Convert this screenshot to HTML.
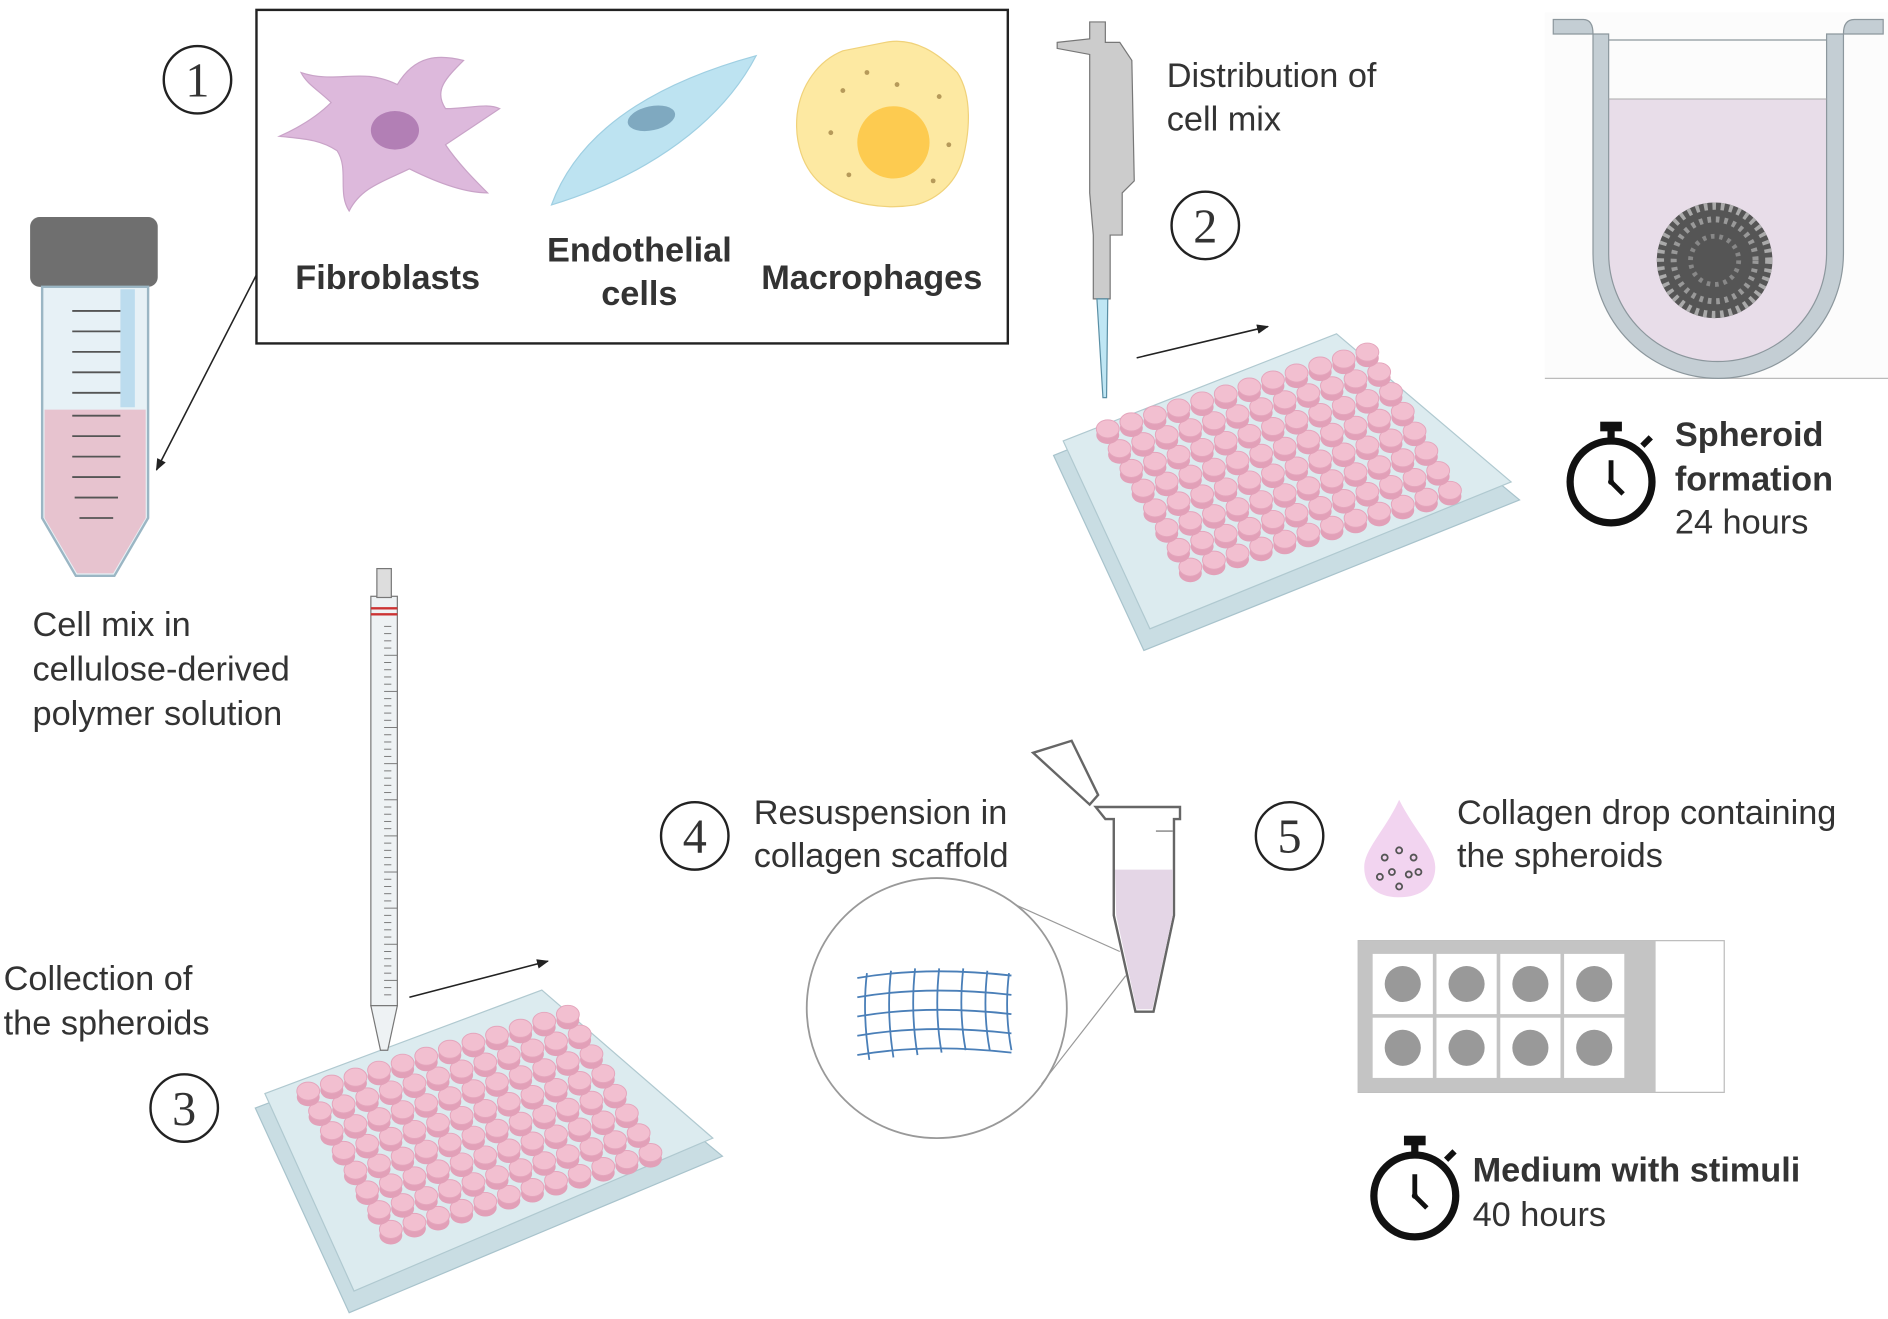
<!DOCTYPE html>
<html><head><meta charset="utf-8"><style>
html,body{margin:0;padding:0;background:#fff;}
svg{display:block;}
text{font-family:"Liberation Sans",sans-serif;fill:#333;font-size:28.5px;}
.b{font-weight:bold;}
</style></head><body>
<svg id="s" width="1888" height="1319" viewBox="0 0 1568 1095" xmlns="http://www.w3.org/2000/svg">
<defs>
<marker id="ah" markerWidth="10" markerHeight="8" refX="9" refY="4" orient="auto" markerUnits="userSpaceOnUse"><path d="M0,0 L10,4 L0,8z" fill="#222"/></marker>
</defs>
<rect width="1568" height="1095" fill="#fff"/>
<!-- box 1 -->
<rect x="213" y="8" width="624" height="277" fill="#fff" stroke="#222" stroke-width="2"/>
<circle cx="164" cy="66" r="28" fill="none" stroke="#222" stroke-width="2"/><text x="164" y="80" font-size="40" text-anchor="middle" style="font-family:'Liberation Serif',serif;font-size:40px" fill="#222">1</text>
<path d="M250,60 C280,70 300,55 330,70 C345,45 365,45 385,50 C370,65 360,75 370,90 C390,90 405,85 415,90 C400,100 385,110 370,120 C380,135 395,150 405,160 C385,160 360,150 340,140 C320,150 300,155 290,175 C280,160 290,140 280,125 C265,115 250,115 232,113 C250,105 265,95 275,85 C265,75 255,70 250,60Z" fill="#ddb9dc" stroke="#c9a3c8"/>
<ellipse cx="328" cy="108" rx="20" ry="16" fill="#b27fb5"/>
<path d="M458,170 C480,110 540,70 628,46 C600,100 540,145 458,170Z" fill="#bde3f1" stroke="#9fcfe2"/>
<ellipse cx="541" cy="98" rx="20" ry="10" fill="#7fa9c0" transform="rotate(-12 541 98)"/>
<path d="M735,35 C760,30 780,45 795,60 C808,80 805,110 800,130 C795,150 780,165 760,170 C735,174 705,170 685,155 C665,140 660,115 662,95 C665,70 680,50 700,42Z" fill="#fde9a2" stroke="#f0d27a"/>
<circle cx="742" cy="118" r="30" fill="#fdcb50"/>
<g fill="#b69a5a"><circle cx="700" cy="75" r="2"/><circle cx="720" cy="60" r="2"/><circle cx="780" cy="80" r="2"/><circle cx="690" cy="110" r="2"/><circle cx="705" cy="145" r="2"/><circle cx="775" cy="150" r="2"/><circle cx="745" cy="70" r="2"/><circle cx="788" cy="120" r="2"/></g>
<text class="b" x="322" y="240" text-anchor="middle">Fibroblasts</text>
<text class="b" x="531" y="217" text-anchor="middle">Endothelial</text>
<text class="b" x="531" y="253" text-anchor="middle">cells</text>
<text class="b" x="724" y="240" text-anchor="middle">Macrophages</text>
<line x1="213" y1="228" x2="130" y2="390" stroke="#222" stroke-width="1.3" marker-end="url(#ah)"/>
<!-- falcon tube -->
<rect x="25" y="180" width="106" height="58" rx="8" fill="#6f6f6f"/>
<path d="M35,238 L123,238 L123,430 L95,478 L63,478 L35,430Z" fill="#e7f1f6" stroke="#9bb6c4" stroke-width="2"/>
<path d="M37,340 L121,340 L121,430 L94,476 L64,476 L37,430Z" fill="#e7c3cf"/>
<rect x="100" y="240" width="12" height="98" fill="#bcdcee"/>
<g stroke="#555" stroke-width="1.5"><line x1="60" y1="258" x2="100" y2="258"/><line x1="60" y1="275" x2="100" y2="275"/><line x1="60" y1="292" x2="100" y2="292"/><line x1="60" y1="309" x2="100" y2="309"/><line x1="60" y1="326" x2="100" y2="326"/><line x1="60" y1="345" x2="100" y2="345"/><line x1="60" y1="362" x2="100" y2="362"/><line x1="60" y1="379" x2="100" y2="379"/><line x1="60" y1="396" x2="100" y2="396"/><line x1="62" y1="413" x2="98" y2="413"/><line x1="66" y1="430" x2="94" y2="430"/></g>
<text x="27" y="528">Cell mix in</text>
<text x="27" y="565">cellulose-derived</text>
<text x="27" y="602">polymer solution</text>
<!-- pipette 2 -->
<path d="M878,35 L905,32 L905,18 L918,18 L918,35 L930,35 L940,50 L942,150 L932,160 L932,195 L922,195 L922,248 L908,248 L908,195 L905,160 L905,45 L878,40Z" fill="#ccc" stroke="#777"/>
<path d="M911,248 L920,248 L919,330 L916,330Z" fill="#bfe6f4" stroke="#5a8fa5"/>
<text x="969" y="72">Distribution of</text>
<text x="969" y="108">cell mix</text>
<circle cx="1001" cy="187" r="28" fill="none" stroke="#222" stroke-width="2"/><text x="1001" y="201" text-anchor="middle" style="font-family:'Liberation Serif',serif;font-size:40px" fill="#222">2</text>
<line x1="944" y1="297" x2="1053" y2="271" stroke="#222" stroke-width="1.3" marker-end="url(#ah)"/>
<!-- plates -->
<g>
<path d="M875,378 L1105,285 L1262,415 L950,540 Z" fill="#c9dde3" stroke="#a8c3cc"/>
<path d="M883,366 L1110,277 L1255,400 L955,522 Z" fill="#dcebef" stroke="#b0c9d0"/>
</g>
<g id="w2"></g>
<g>
<path d="M212,920 L445,832 L600,960 L290,1090 Z" fill="#c9dde3" stroke="#a8c3cc"/>
<path d="M220,908 L450,822 L592,945 L294,1072 Z" fill="#dcebef" stroke="#b0c9d0"/>
</g>
<g id="w3"></g>
<!-- well cross-section -->
<rect x="1283" y="10" width="285" height="305" fill="#fcfcfc"/>
<line x1="1283" y1="314" x2="1568" y2="314" stroke="#bbb"/>
<path d="M1336,82 L1517,82 L1517,210 A90.5,90 0 0 1 1336,210Z" fill="#e8dde9"/>
<path d="M1290,16 L1315,16 Q1323,16 1323,28 L1323,210 A104,104 0 0 0 1531,210 L1531,28 Q1531,16 1540,16 L1564,16 L1564,28 L1531,28 L1517,28 L1517,210 A90.5,90 0 0 1 1336,210 L1336,28 L1290,28Z" fill="#c4ced4" stroke="#8c979d" fill-rule="evenodd"/>
<line x1="1336" y1="33" x2="1517" y2="33" stroke="#8c979d"/>
<line x1="1336" y1="82" x2="1517" y2="82" stroke="#aaa" stroke-width="0.8"/>
<circle cx="1424" cy="216" r="48" fill="#555"/>
<circle cx="1424" cy="216" r="45" fill="none" stroke="#aaa" stroke-width="6" stroke-dasharray="3 4"/>
<circle cx="1424" cy="216" r="34" fill="none" stroke="#999" stroke-width="5" stroke-dasharray="3 4"/>
<circle cx="1424" cy="216" r="20" fill="none" stroke="#888" stroke-width="4" stroke-dasharray="3 4"/>
<!-- stopwatch 1 -->
<g transform="translate(1338,400)">
<circle r="34" fill="#fff" stroke="#111" stroke-width="6"/><rect x="-9" y="-50" width="18" height="8" fill="#111"/><rect x="-3" y="-44" width="6" height="8" fill="#111"/>
<line x1="26" y1="-30" x2="33" y2="-37" stroke="#111" stroke-width="5"/><circle r="2.5" fill="#111"/>
<path d="M0,-18 L0,0 L10,10" stroke="#111" stroke-width="4" fill="none"/>
</g>
<text class="b" x="1391" y="370">Spheroid</text>
<text class="b" x="1391" y="407">formation</text>
<text x="1391" y="443">24 hours</text>
<!-- serological pipette -->
<rect x="308" y="495" width="22" height="340" fill="#eef2f4" stroke="#777"/>
<rect x="313" y="472" width="12" height="24" fill="#ddd" stroke="#777"/>
<line x1="308" y1="505" x2="330" y2="505" stroke="#c33" stroke-width="2"/>
<line x1="308" y1="510" x2="330" y2="510" stroke="#c33" stroke-width="2"/>
<path d="M308,835 L330,835 L322,872 L316,872Z" fill="#eef2f4" stroke="#777"/>
<g id="tk"></g>
<text x="3" y="822">Collection of</text>
<text x="3" y="859">the spheroids</text>
<circle cx="153" cy="920" r="28" fill="none" stroke="#222" stroke-width="2"/><text x="153" y="934" text-anchor="middle" style="font-family:'Liberation Serif',serif;font-size:40px" fill="#222">3</text>
<line x1="340" y1="828" x2="455" y2="798" stroke="#222" stroke-width="1.3" marker-end="url(#ah)"/>
<!-- 4 -->
<circle cx="577" cy="694" r="28" fill="none" stroke="#222" stroke-width="2"/><text x="577" y="708" text-anchor="middle" style="font-family:'Liberation Serif',serif;font-size:40px" fill="#222">4</text>
<text x="626" y="684">Resuspension in</text>
<text x="626" y="720">collagen scaffold</text>
<circle cx="778" cy="837" r="108" fill="#fff" stroke="#999" stroke-width="1.5"/>
<line x1="845" y1="752" x2="930" y2="790" stroke="#999"/><line x1="865" y1="900" x2="935" y2="810" stroke="#999"/>
<g stroke="#4a7fb8" stroke-width="1.5" fill="none">
<path d="M712,812 Q770,802 840,810"/><path d="M712,828 Q770,818 840,826"/><path d="M712,844 Q770,834 840,842"/><path d="M712,860 Q770,850 840,858"/><path d="M712,876 Q770,866 840,874"/>
<path d="M720,808 Q716,840 722,880"/><path d="M740,806 Q736,840 742,878"/><path d="M760,804 Q756,840 762,876"/><path d="M780,804 Q776,840 782,874"/><path d="M800,804 Q796,840 802,872"/><path d="M820,806 Q816,840 822,872"/><path d="M838,808 Q834,840 840,872"/>
</g>
<path d="M858,625 L890,615 L912,660 L905,668 Z" fill="#fff" stroke="#666" stroke-width="2"/>
<path d="M910,670 L980,670 L980,680 L975,680 L975,760 L958,840 L943,840 L925,760 L925,680 L918,680Z" fill="#fff" stroke="#666" stroke-width="2"/>
<path d="M926,722 L974,722 L974,760 L957,838 L944,838 L927,760Z" fill="#e4d6e6"/>
<line x1="960" y1="690" x2="974" y2="690" stroke="#666"/>
<!-- 5 -->
<circle cx="1071" cy="694" r="28" fill="none" stroke="#222" stroke-width="2"/><text x="1071" y="708" text-anchor="middle" style="font-family:'Liberation Serif',serif;font-size:40px" fill="#222">5</text>
<path d="M1162,664 C1175,690 1192,705 1192,720 C1192,736 1180,745 1162,745 C1144,745 1133,736 1133,720 C1133,705 1150,690 1162,664Z" fill="#f2d4f0"/>
<g fill="none" stroke="#555" stroke-width="1.5"><circle cx="1150" cy="712" r="2.5"/><circle cx="1162" cy="706" r="2.5"/><circle cx="1174" cy="712" r="2.5"/><circle cx="1156" cy="724" r="2.5"/><circle cx="1170" cy="726" r="2.5"/><circle cx="1162" cy="736" r="2.5"/><circle cx="1146" cy="728" r="2.5"/><circle cx="1178" cy="724" r="2.5"/></g>
<text x="1210" y="684">Collagen drop containing</text>
<text x="1210" y="720">the spheroids</text>
<rect x="1128" y="781" width="304" height="126" fill="#fff" stroke="#bbb"/>
<rect x="1128" y="781" width="247" height="126" fill="#c4c4c4"/>
<g fill="#fff"><rect x="1140" y="792" width="50" height="50"/><rect x="1193" y="792" width="50" height="50"/><rect x="1246" y="792" width="50" height="50"/><rect x="1299" y="792" width="50" height="50"/><rect x="1140" y="845" width="50" height="50"/><rect x="1193" y="845" width="50" height="50"/><rect x="1246" y="845" width="50" height="50"/><rect x="1299" y="845" width="50" height="50"/></g>
<g fill="#999"><circle cx="1165" cy="817" r="15"/><circle cx="1218" cy="817" r="15"/><circle cx="1271" cy="817" r="15"/><circle cx="1324" cy="817" r="15"/><circle cx="1165" cy="870" r="15"/><circle cx="1218" cy="870" r="15"/><circle cx="1271" cy="870" r="15"/><circle cx="1324" cy="870" r="15"/></g>
<g transform="translate(1175,993)">
<circle r="34" fill="#fff" stroke="#111" stroke-width="6"/><rect x="-9" y="-50" width="18" height="8" fill="#111"/><rect x="-3" y="-44" width="6" height="8" fill="#111"/>
<line x1="26" y1="-30" x2="33" y2="-37" stroke="#111" stroke-width="5"/><circle r="2.5" fill="#111"/>
<path d="M0,-18 L0,0 L10,10" stroke="#111" stroke-width="4" fill="none"/>
</g>
<text class="b" x="1223" y="981">Medium with stimuli</text>
<text x="1223" y="1018">40 hours</text>
</svg>
<script>
function wells(id,ox,oy){var g=document.getElementById(id),h="";
for(var r=7;r>=0;r--)for(var c=0;c<12;c++){var x=ox+c*19.6+r*9.8,y=oy-c*5.8+r*16.4;
h+='<ellipse cx="'+x+'" cy="'+(y+5)+'" rx="9.5" ry="7.5" fill="#e2a0b8"/><ellipse cx="'+x+'" cy="'+y+'" rx="9.5" ry="7.5" fill="#f2bfd0" stroke="#e4a5bc" stroke-width="0.8"/>';}
g.innerHTML=h;}
wells("w2",920,356);wells("w3",256,906);
var t="";for(var y=520;y<832;y+=6){t+='<line x1="319" y1="'+y+'" x2="'+(y%30<6?330:325)+'" y2="'+y+'" stroke="#777" stroke-width="0.8"/>';}
document.getElementById("tk").innerHTML=t;
</script>
</body></html>
